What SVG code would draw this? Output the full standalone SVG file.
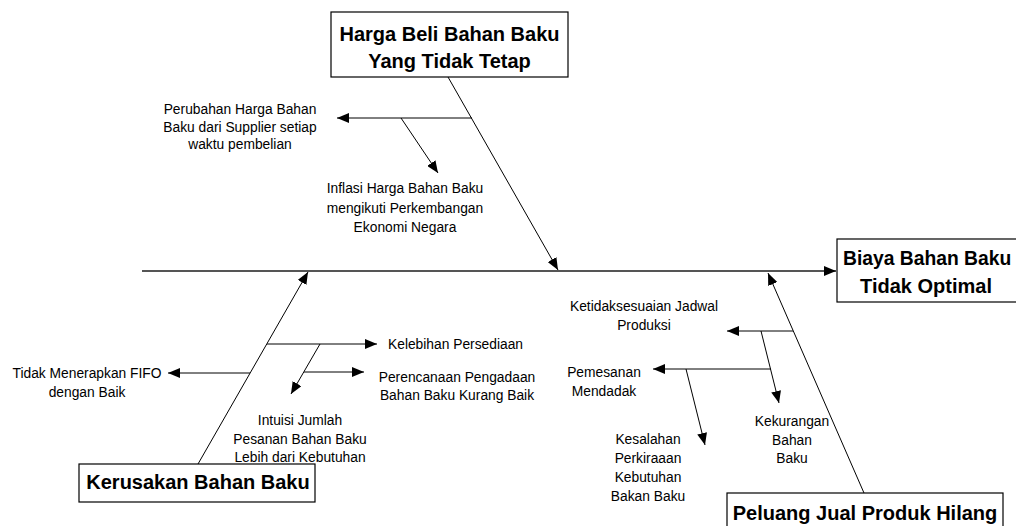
<svg xmlns="http://www.w3.org/2000/svg" width="1016" height="526" viewBox="0 0 1016 526">
<style>
.box{fill:#fff;stroke:#000;stroke-width:1.2}
.title{font-family:"Liberation Sans",Arial,sans-serif;font-weight:bold;font-size:20px;fill:#000}
.lbl{font-family:"Liberation Sans",Arial,sans-serif;font-size:13.8px;fill:#000;text-anchor:middle}
.ln{fill:none;stroke:#000;stroke-width:1;marker-end:url(#ah)}
.spine{fill:none;stroke:#555;stroke-width:2;marker-end:url(#ah)}
</style>
<defs>
<marker id="ah" markerUnits="userSpaceOnUse" markerWidth="12" markerHeight="10" refX="12" refY="5" orient="auto">
<path d="M0,0 L12,5 L0,10 z" fill="#000"/>
</marker>
</defs>
<rect width="1016" height="526" fill="#fff"/>
<g id="connectors">
<path class="spine" d="M142 271 H836"/>
<path class="ln" d="M448 77 L558 270"/>
<path class="ln" d="M472 118 H337"/>
<path class="ln" d="M401 118 L438 173"/>
<path class="ln" d="M198 464 L308 272"/>
<path class="ln" d="M267 344 H377"/>
<path class="ln" d="M320 344 L291 394"/>
<path class="ln" d="M304 372 H364"/>
<path class="ln" d="M250 373 H168"/>
<path class="ln" d="M864 493 L768 273"/>
<path class="ln" d="M793 331 H727"/>
<path class="ln" d="M761 331 L779 403"/>
<path class="ln" d="M771 369 H653"/>
<path class="ln" d="M686 369 L705 445"/>
</g>
<g id="node-harga">
<rect class="box" x="331" y="12" width="237" height="65"/>
<text class="title" x="449.5" y="41" text-anchor="middle">Harga Beli Bahan Baku</text>
<text class="title" x="449.5" y="68" text-anchor="middle">Yang Tidak Tetap</text>
</g>
<g id="node-biaya">
<rect class="box" x="837" y="239" width="185" height="63"/>
<text class="title" x="843" y="265" style="font-size:19.3px">Biaya Bahan Baku</text>
<text class="title" x="926" y="293" text-anchor="middle">Tidak Optimal</text>
</g>
<g id="node-kerusakan">
<rect class="box" x="79" y="464" width="236" height="38"/>
<text class="title" x="198" y="489" text-anchor="middle">Kerusakan Bahan Baku</text>
</g>
<g id="node-peluang">
<rect class="box" x="727" y="493" width="276" height="40"/>
<text class="title" x="865" y="520" text-anchor="middle">Peluang Jual Produk Hilang</text>
</g>
<g id="label-perubahan">
<text class="lbl" x="240" y="114">Perubahan Harga Bahan</text>
<text class="lbl" x="240" y="132">Baku dari Supplier setiap</text>
<text class="lbl" x="240" y="149">waktu pembelian</text>
</g>
<g id="label-inflasi">
<text class="lbl" x="405" y="193">Inflasi Harga Bahan Baku</text>
<text class="lbl" x="405" y="213">mengikuti Perkembangan</text>
<text class="lbl" x="405" y="232">Ekonomi Negara</text>
</g>
<g id="label-fifo">
<text class="lbl" x="87" y="378">Tidak Menerapkan FIFO</text>
<text class="lbl" x="87" y="397">dengan Baik</text>
</g>
<g id="label-kelebihan">
<text class="lbl" x="388" y="349" style="text-anchor:start">Kelebihan Persediaan</text>
</g>
<g id="label-perencanaan">
<text class="lbl" x="457" y="382">Perencanaan Pengadaan</text>
<text class="lbl" x="457" y="400">Bahan Baku Kurang Baik</text>
</g>
<g id="label-intuisi">
<text class="lbl" x="300" y="425">Intuisi Jumlah</text>
<text class="lbl" x="300" y="444">Pesanan Bahan Baku</text>
<text class="lbl" x="300" y="462">Lebih dari Kebutuhan</text>
</g>
<g id="label-ketidaksesuaian">
<text class="lbl" x="644" y="311">Ketidaksesuaian Jadwal</text>
<text class="lbl" x="644" y="330">Produksi</text>
</g>
<g id="label-pemesanan">
<text class="lbl" x="604" y="377">Pemesanan</text>
<text class="lbl" x="604" y="396">Mendadak</text>
</g>
<g id="label-kesalahan">
<text class="lbl" x="648" y="444">Kesalahan</text>
<text class="lbl" x="648" y="463">Perkiraaan</text>
<text class="lbl" x="648" y="482">Kebutuhan</text>
<text class="lbl" x="648" y="501">Bakan Baku</text>
</g>
<g id="label-kekurangan">
<text class="lbl" x="792" y="426">Kekurangan</text>
<text class="lbl" x="792" y="445">Bahan</text>
<text class="lbl" x="792" y="463">Baku</text>
</g>
</svg>
